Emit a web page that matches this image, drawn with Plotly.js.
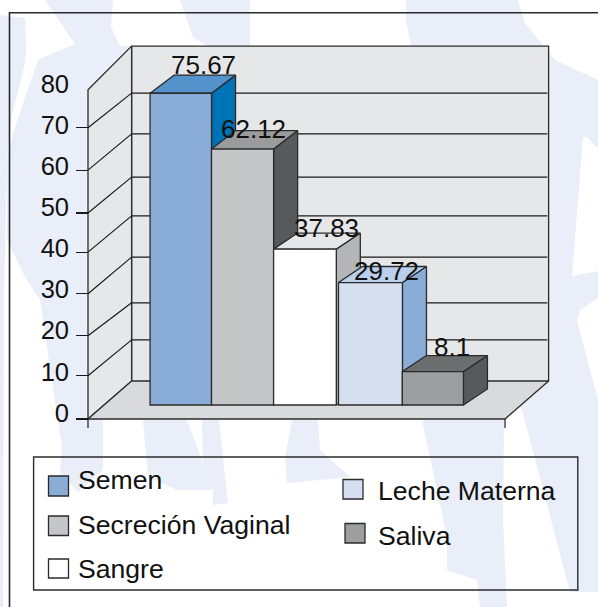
<!DOCTYPE html>
<html>
<head>
<meta charset="utf-8">
<script src="https://cdn.plot.ly/plotly-3.0.1.min.js"></script>
<style>html,body{margin:0;padding:0;background:#fff}#chart{width:598px;height:607px}</style>
</head>
<body>
<div id="chart"></div>
<script>
// ---- data ----
var categories = ['Semen', 'Secreción Vaginal', 'Sangre', 'Leche Materna', 'Saliva'];
var values = [75.67, 62.12, 37.83, 29.72, 8.1];
var valueLabels = ['75.67', '62.12', '37.83', '29.72', '8.1'];
var tickValues = [0, 10, 20, 30, 40, 50, 60, 70, 80];
// levels of the wall lines as printed, in the bars' value units
var frontWallLevels = [-3.4, 7.1, 16.8, 27, 37.1, 46.6, 57, 67.3, 76.5];
var backWallLevels = [5.8, 15.8, 24.8, 35.9, 45.9, 55.3, 65.8, 75.7, 87.1];

// ---- styles and geometry ----
var frontColors = ['#8aadd8', '#c5c6c8', '#ffffff', '#d5dff0', '#9d9ea0'];
var topColors = ['#5392cb', '#9a9b9d', '#e6e7e8', '#b9cfeb', '#6d6e70'];
var sideColors = ['#0072b8', '#58595b', '#b4b5b7', '#8aadd8', '#58595b'];
var barCenters = [0, 0.985, 1.98, 3.025, 4.02];
var barWidths = [0.98, 0.99, 1.0, 1.02, 0.975];
var depthY = [4.4, 4.5, 3.9, 3.9, 3.9];
var depthX = 0.383;
var labelDx = [0.36, 0.17, 0.35, 0.26, 0.31];
var labelDy = [4.7, 2.7, 2.9, 0.5, 3.8];
var W = 598, H = 607;
var xPerPx = 1 / 62.7, x0px = 180.8;
var yPerPx = 1 / 4.12, y0px = 405;
var xRange = [(0 - x0px) * xPerPx, (W - x0px) * xPerPx];
var yRange = [(y0px - H) * yPerPx, y0px * yPerPx];
var wallLeft = (88 - x0px) * xPerPx, wallRight = (505 - x0px) * xPerPx, wallDx = 43.6 * xPerPx;
var tickDown = 9 * yPerPx;
var ink = '#2b2b2b', wallFill = '#e6e7e9', floorFill = '#d9dadc', pale = '#e9eef8';
var fontFamily = '"Liberation Sans", Arial, sans-serif';
var fs = 25.5, labelFs = 26, legendFs = 26.6;

var traces = [];
function poly(xs, ys, fill, name) {
  traces.push({type: 'scatter', mode: 'lines', x: xs, y: ys, xaxis: 'x', yaxis: 'y', fill: 'toself', fillcolor: fill,
    line: {color: ink, width: 1.3}, hoverinfo: 'skip', showlegend: false, name: name});
}
function line(xs, ys, width) {
  traces.push({type: 'scatter', mode: 'lines', x: xs, y: ys, xaxis: 'x', yaxis: 'y',
    line: {color: '#1a1a1a', width: width || 1.2}, hoverinfo: 'skip', showlegend: false});
}
var n = tickValues.length - 1;
var fb = frontWallLevels[0], ft = frontWallLevels[n], bb = backWallLevels[0], bt = backWallLevels[n];
// walls and floor
poly([wallLeft + wallDx, wallRight + wallDx, wallRight + wallDx, wallLeft + wallDx, wallLeft + wallDx], [bb, bb, bt, bt, bb], wallFill, 'back wall');
poly([wallLeft, wallLeft + wallDx, wallLeft + wallDx, wallLeft, wallLeft], [fb, bb, bt, ft, fb], wallFill, 'side wall');
poly([wallLeft, wallLeft + wallDx, wallRight + wallDx, wallRight, wallLeft], [fb, bb, bb, fb, fb], floorFill, 'floor');
// grid lines
tickValues.forEach(function (t, i) {
  if (i === 0 || i === n) return;
  line([wallLeft, wallLeft + wallDx], [frontWallLevels[i], backWallLevels[i]]);
  line([wallLeft + wallDx, wallRight + wallDx - 0.02], [backWallLevels[i], backWallLevels[i]]);
});
// small marks under the floor
line([wallLeft, wallLeft], [fb, fb - tickDown]);
line([wallRight, wallRight], [fb, fb - tickDown]);
// bar tops and sides
values.forEach(function (v, i) {
  var l = barCenters[i] - barWidths[i] / 2, r = barCenters[i] + barWidths[i] / 2, d = depthY[i];
  poly([r, r + depthX, r + depthX, r, r], [0, d, v + d, v, 0], sideColors[i], categories[i] + ' side');
  poly([l, l + depthX, r + depthX, r, l], [v, v + d, v + d, v, v], topColors[i], categories[i] + ' top');
});
// bar fronts
values.forEach(function (v, i) {
  traces.push({type: 'bar', x: [barCenters[i]], y: [v], width: [barWidths[i]], xaxis: 'x', yaxis: 'y2', name: categories[i],
    marker: {color: frontColors[i], line: {color: ink, width: 1.3}}, showlegend: false, cliponaxis: false});
});
// carrier for the printed value axis
traces.push({type: 'scatter', mode: 'lines', x: [wallLeft, wallLeft], y: [0, 80], xaxis: 'x', yaxis: 'y3',
  line: {width: 0, color: 'rgba(0,0,0,0)'}, hoverinfo: 'skip', showlegend: false});

// value labels
var annotations = values.map(function (v, i) {
  return {xref: 'x', yref: 'y2', x: barCenters[i] + labelDx[i], y: v + labelDy[i], yanchor: 'bottom', xanchor: 'center',
    text: valueLabels[i], showarrow: false, font: {family: fontFamily, size: labelFs, color: '#111'}, borderpad: 0, yshift: -7};
});

function px(x) { return x / W; }
function py(y) { return 1 - y / H; }
function pathOf(pts) {
  return 'M' + pts.map(function (p) { return px(p[0]) + ',' + py(p[1]); }).join('L') + 'Z';
}
// pale silhouettes behind the chart
var silhouettes = [
  [[45,0],[75,44],[38,60],[14,130],[7,160],[7,240],[25,277],[40,300],[52,380],[62,447],[60,473],[78,492],[103,470],[103,400],[130,400],[130,46],[120,46],[111,27],[113,0]],
  [[0,15],[25,18],[26,50],[25,63],[12,115],[7,160],[4,300],[3,607],[0,607]],
  [[180,0],[250,0],[250,60],[207,46],[193,37]],
  [[143,420],[148,477],[177,490],[213,490],[213,505],[228,503],[219,420],[202,420],[203,463],[187,420]],
  [[292,420],[285,457],[287,483],[350,477],[320,450],[318,420]],
  [[422,420],[447,537],[447,570],[477,580],[480,607],[507,607],[503,520],[504,420]],
  [[406,0],[518,0],[525,23],[555,60],[598,80],[598,149],[587,137],[583,137],[572,276],[598,271],[598,298],[580,310],[577,321],[598,400],[598,592],[570,592],[522,410],[500,380],[500,46],[411,46],[406,20]]
];
var shapes = silhouettes.map(function (s) {
  return {type: 'path', xref: 'paper', yref: 'paper', layer: 'below', path: pathOf(s), fillcolor: pale, line: {width: 0}};
});
function rect(x0, y0, x1, y1, fill, color, width) {
  return {type: 'rect', xref: 'paper', yref: 'paper', layer: 'above', x0: px(x0), x1: px(x1), y0: py(y0), y1: py(y1),
    fillcolor: fill, line: {color: color, width: width}};
}
// outer frame and legend box
shapes.push(rect(9.5, 12.7, 640, 640, 'rgba(0,0,0,0)', ink, 1.6));
shapes.push(rect(33.6, 457, 577.8, 590, 'rgba(0,0,0,0)', ink, 1.4));
var legendPos = [
  {sx0: 48.5, sy0: 476, sy1: 496, tx: 76.5, ty: 480},
  {sx0: 48.5, sy0: 516, sy1: 535.5, tx: 76.5, ty: 524.5},
  {sx0: 48.5, sy0: 559, sy1: 578, tx: 76.5, ty: 569},
  {sx0: 343, sy0: 479.5, sy1: 499, tx: 376.5, ty: 491},
  {sx0: 345, sy0: 523.5, sy1: 543, tx: 376.5, ty: 536}
];
categories.forEach(function (c, i) {
  var p = legendPos[i];
  shapes.push(rect(p.sx0, p.sy0, p.sx0 + 20, p.sy1, frontColors[i], ink, 1.3));
  annotations.push({xref: 'paper', yref: 'paper', x: px(p.tx), y: py(p.ty), xanchor: 'left', yanchor: 'middle', text: c,
    showarrow: false, borderpad: 0, font: {family: fontFamily, size: legendFs, color: '#111'}});
});

var layout = {
  width: W, height: H, margin: {l: 0, r: 0, t: 0, b: 0, pad: 0}, autosize: false,
  paper_bgcolor: '#ffffff', plot_bgcolor: 'rgba(0,0,0,0)', showlegend: false, barmode: 'overlay',
  font: {family: fontFamily, color: '#111'},
  xaxis: {domain: [0, 1], range: xRange, visible: false, fixedrange: true},
  yaxis: {domain: [0, 1], range: yRange, anchor: 'free', position: (88 / W), side: 'left', showgrid: false, zeroline: false, showline: false,
    tickmode: 'array', tickvals: frontWallLevels.slice(0, n), ticks: 'outside', ticklen: 12, tickwidth: 1.3, tickcolor: '#1a1a1a', showticklabels: false, fixedrange: true},
  yaxis2: {domain: [0, 1], range: yRange, visible: false, fixedrange: true},
  yaxis3: {domain: [1 - 412.7 / H, 1 - 84 / H], range: [0, 80], anchor: 'free', position: (88 / W), side: 'left', showgrid: false, zeroline: false, showline: false,
    tickmode: 'array', tickvals: tickValues, ticktext: tickValues.map(String), ticks: '', ticklabelstandoff: 19,
    tickfont: {family: fontFamily, size: fs, color: '#111'}, fixedrange: true},
  shapes: shapes,
  annotations: annotations
};
Plotly.newPlot('chart', traces, layout, {displayModeBar: false, staticPlot: true});
</script>
</body>
</html>
